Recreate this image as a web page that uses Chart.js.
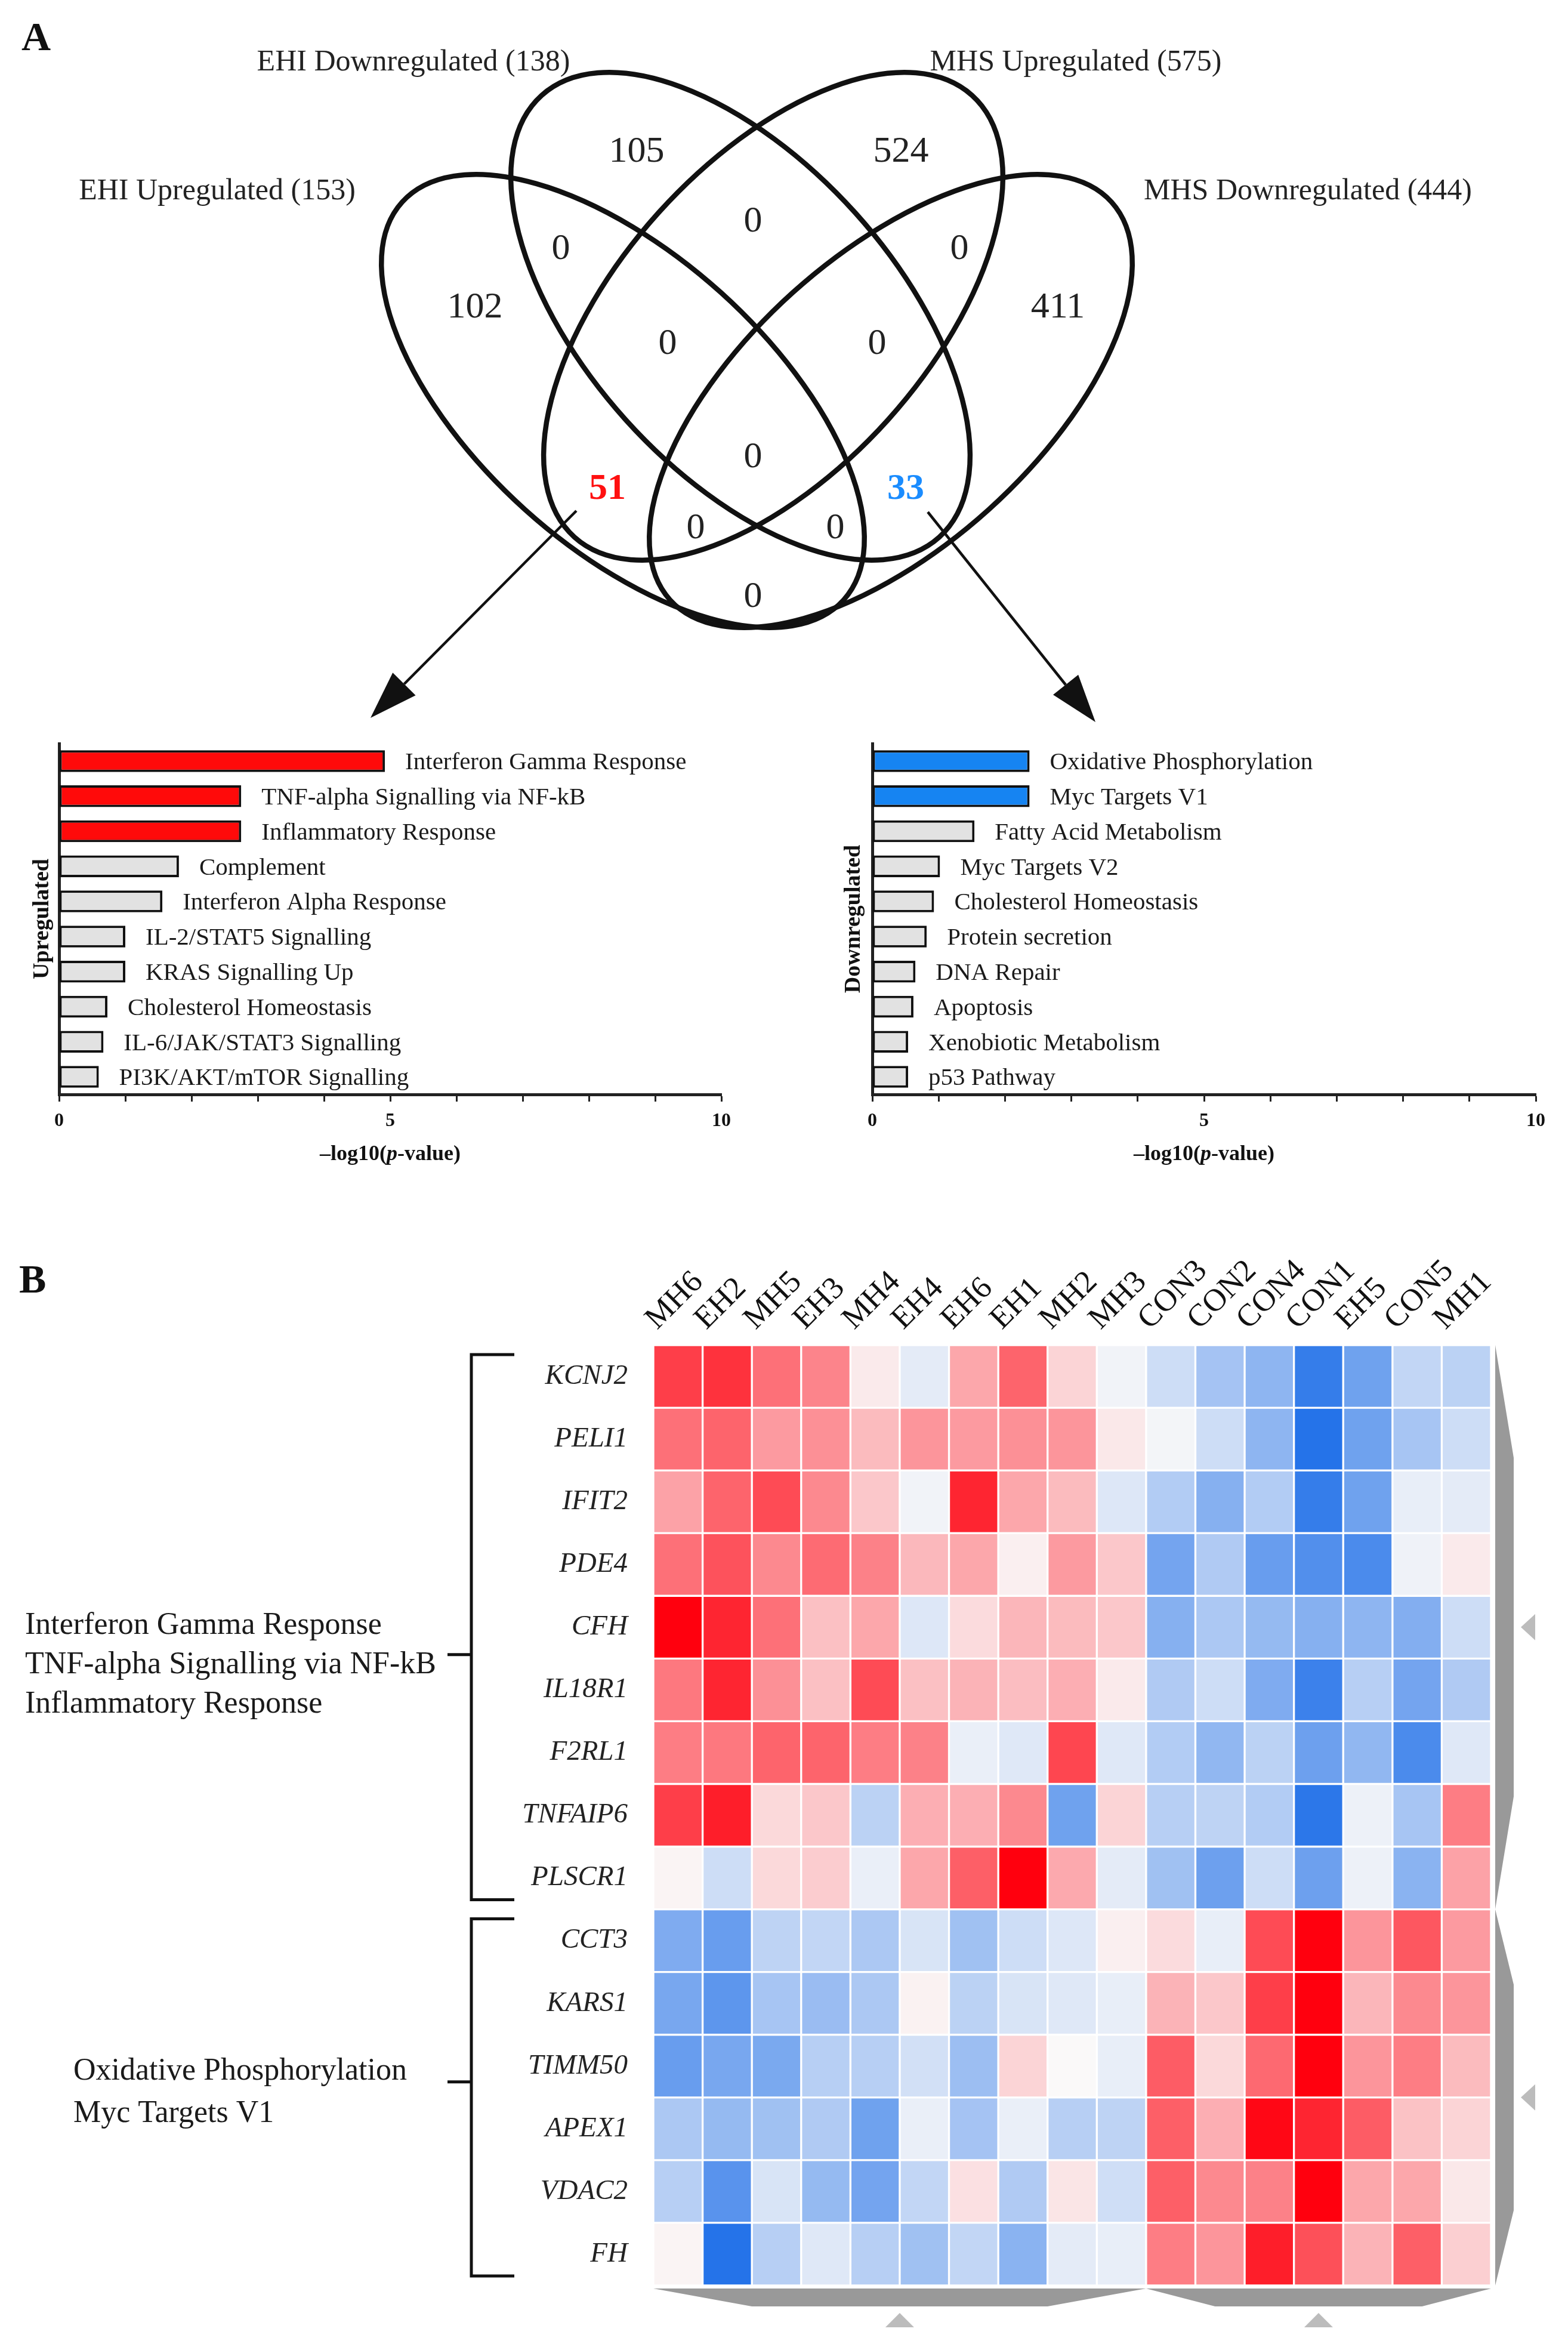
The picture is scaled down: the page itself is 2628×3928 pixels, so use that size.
<!DOCTYPE html>
<html>
<head>
<meta charset="utf-8">
<script src="https://cdn.jsdelivr.net/npm/chart.js@4.4.1/dist/chart.umd.min.js"></script>
<style>
  html, body { margin: 0; padding: 0; background: #fff; }
  #page { position: relative; width: 2628px; height: 3928px; overflow: hidden; }
  canvas { position: absolute; }
</style>
</head>
<body>
<div id="page">
  <canvas id="venn" width="2628" height="1240" style="left:0;top:0;width:2628px;height:1240px"></canvas>
  <canvas id="upBars" width="1314" height="800" style="left:0;top:1180px;width:1314px;height:800px"></canvas>
  <canvas id="downBars" width="1314" height="800" style="left:1314px;top:1180px;width:1314px;height:800px"></canvas>
  <canvas id="heat" width="2628" height="1938" style="left:0;top:1990px;width:2628px;height:1938px"></canvas>
</div>
<script>
// ---- data ----
const setNames = ['EHI Upregulated', 'EHI Downregulated', 'MHS Upregulated', 'MHS Downregulated'];
const setSizes = [153, 138, 575, 444];
// A, B, C, D, AB, BC, CD, ABC, BCD, ABCD, AC, BD, ACD, ABD, AD
const regionCounts = [102, 105, 524, 411, 0, 0, 0, 0, 0, 0, 51, 33, 0, 0, 0];

const upTerms = ['Interferon Gamma Response', 'TNF-alpha Signalling via NF-kB', 'Inflammatory Response',
  'Complement', 'Interferon Alpha Response', 'IL-2/STAT5 Signalling', 'KRAS Signalling Up',
  'Cholesterol Homeostasis', 'IL-6/JAK/STAT3 Signalling', 'PI3K/AKT/mTOR Signalling'];
const upLogP = [4.92, 2.75, 2.75, 1.81, 1.56, 1.0, 1.0, 0.73, 0.67, 0.6];

const downTerms = ['Oxidative Phosphorylation', 'Myc Targets V1', 'Fatty Acid Metabolism', 'Myc Targets V2',
  'Cholesterol Homeostasis', 'Protein secretion', 'DNA Repair', 'Apoptosis',
  'Xenobiotic Metabolism', 'p53 Pathway'];
const downLogP = [2.37, 2.37, 1.54, 1.02, 0.93, 0.82, 0.65, 0.62, 0.54, 0.54];

const xTicks = [0, 5, 10];

const samples = ['MH6', 'EH2', 'MH5', 'EH3', 'MH4', 'EH4', 'EH6', 'EH1', 'MH2', 'MH3',
  'CON3', 'CON2', 'CON4', 'CON1', 'EH5', 'CON5', 'MH1'];
const genes = ['KCNJ2', 'PELI1', 'IFIT2', 'PDE4', 'CFH', 'IL18R1', 'F2RL1', 'TNFAIP6', 'PLSCR1',
  'CCT3', 'KARS1', 'TIMM50', 'APEX1', 'VDAC2', 'FH'];

// relative expression (scaled, red = high, blue = low)
const KCNJ2   = [0.75, 0.8, 0.55, 0.47, 0.06, -0.1, 0.33, 0.6, 0.15, -0.04, -0.2, -0.38, -0.48, -0.88, -0.62, -0.25, -0.28];
const PELI1   = [0.55, 0.6, 0.38, 0.42, 0.25, 0.4, 0.38, 0.42, 0.4, 0.07, -0.03, -0.2, -0.48, -0.95, -0.62, -0.37, -0.2];
const IFIT2   = [0.35, 0.6, 0.7, 0.45, 0.2, -0.04, 0.85, 0.33, 0.25, -0.13, -0.32, -0.52, -0.32, -0.88, -0.62, -0.08, -0.1];
const PDE4    = [0.55, 0.67, 0.45, 0.57, 0.48, 0.26, 0.33, 0.04, 0.38, 0.2, -0.6, -0.33, -0.65, -0.75, -0.78, -0.05, 0.06];
const CFH     = [1.0, 0.85, 0.55, 0.23, 0.33, -0.13, 0.12, 0.27, 0.25, 0.2, -0.52, -0.35, -0.45, -0.52, -0.48, -0.53, -0.2];
const IL18R1  = [0.52, 0.85, 0.42, 0.23, 0.7, 0.23, 0.28, 0.24, 0.3, 0.06, -0.33, -0.2, -0.55, -0.85, -0.3, -0.6, -0.33];
const F2RL1   = [0.5, 0.52, 0.6, 0.6, 0.5, 0.48, -0.07, -0.12, 0.72, -0.12, -0.32, -0.47, -0.28, -0.63, -0.47, -0.78, -0.12];
const TNFAIP6 = [0.75, 0.88, 0.13, 0.2, -0.28, 0.3, 0.3, 0.45, -0.62, 0.15, -0.3, -0.27, -0.32, -0.92, -0.06, -0.37, 0.5];
const PLSCR1  = [0.02, -0.2, 0.13, 0.18, -0.07, 0.33, 0.62, 1.0, 0.32, -0.1, -0.4, -0.63, -0.2, -0.63, -0.06, -0.5, 0.35];
const CCT3    = [-0.55, -0.65, -0.27, -0.25, -0.35, -0.15, -0.4, -0.2, -0.13, 0.04, 0.12, -0.08, 0.7, 1.0, 0.4, 0.65, 0.38];
const KARS1   = [-0.58, -0.7, -0.37, -0.43, -0.35, 0.03, -0.28, -0.15, -0.12, -0.08, 0.28, 0.2, 0.75, 1.0, 0.27, 0.45, 0.4];
const TIMM50  = [-0.65, -0.58, -0.57, -0.3, -0.3, -0.18, -0.42, 0.15, 0.0, -0.08, 0.63, 0.13, 0.58, 1.0, 0.4, 0.5, 0.25];
const APEX1   = [-0.35, -0.45, -0.4, -0.33, -0.62, -0.07, -0.38, -0.07, -0.3, -0.27, 0.62, 0.3, 0.97, 0.85, 0.63, 0.22, 0.15];
const VDAC2   = [-0.3, -0.72, -0.15, -0.45, -0.6, -0.25, 0.1, -0.33, 0.08, -0.19, 0.62, 0.45, 0.48, 1.0, 0.33, 0.33, 0.07];
const FH      = [0.02, -0.95, -0.3, -0.12, -0.3, -0.4, -0.25, -0.5, -0.1, -0.08, 0.5, 0.4, 0.88, 0.68, 0.28, 0.62, 0.17];
const geneRows = [KCNJ2, PELI1, IFIT2, PDE4, CFH, IL18R1, F2RL1, TNFAIP6, PLSCR1, CCT3, KARS1, TIMM50, APEX1, VDAC2, FH];

const geneGroups = [
  { first: 0, last: 8, lines: ['Interferon Gamma Response', 'TNF-alpha Signalling via NF-kB', 'Inflammatory Response'] },
  { first: 9, last: 14, lines: ['Oxidative Phosphorylation', 'Myc Targets V1'] }
];
const sampleClusters = [[0, 9], [10, 16]];

// ---- layout (page pixels) ----
const ellipses = [
  { cx: 1044, cy: 672, rx: 498, ry: 245, rot: 42 },
  { cx: 1241, cy: 530, rx: 498, ry: 259, rot: 48 },
  { cx: 1296, cy: 530, rx: 498, ry: 259, rot: -48 },
  { cx: 1493, cy: 672, rx: 498, ry: 245, rot: -42 }
];
const setLabelPos = [[364, 321], [693, 105], [1803, 105], [2192, 321]];
const regionPos = [[796, 516], [1067, 255], [1510, 255], [1773, 516], [940, 418], [1262, 372], [1608, 418],
  [1119, 577], [1470, 577], [1262, 767], [1018, 820], [1518, 820], [1166, 886], [1400, 886], [1262, 1001]];
const regionColor = { 10: '#ff1010', 11: '#1a8cff' };
const arrows = [[966, 856, 621, 1203], [1555, 858, 1836, 1210]];

const SERIF = "'Liberation Serif', 'DejaVu Serif', serif";
Chart.defaults.font.family = SERIF;
Chart.defaults.color = '#1a1a1a';

// ---- Venn ----
const vennDraw = {
  id: 'vennDraw',
  afterDatasetsDraw(chart) {
    const ctx = chart.ctx, xs = chart.scales.x, ys = chart.scales.y;
    const X = v => xs.getPixelForValue(v), Y = v => ys.getPixelForValue(v);
    ctx.save();
    ctx.strokeStyle = '#111';
    ctx.lineWidth = 8.5;
    ellipses.forEach(e => {
      ctx.beginPath();
      ctx.ellipse(X(e.cx), Y(e.cy), e.rx, e.ry, e.rot * Math.PI / 180, 0, Math.PI * 2);
      ctx.stroke();
    });
    ctx.fillStyle = '#222';
    ctx.font = '50px ' + SERIF;
    ctx.textAlign = 'center';
    ctx.textBaseline = 'middle';
    setNames.forEach((n, i) => ctx.fillText(n + ' (' + setSizes[i] + ')', X(setLabelPos[i][0]), Y(setLabelPos[i][1])));
    const meta = chart.getDatasetMeta(0);
    meta.data.forEach((pt, i) => {
      const hi = regionColor[i];
      ctx.font = (hi ? 'bold ' : '') + '62px ' + SERIF;
      ctx.fillStyle = hi || '#222';
      ctx.fillText(String(regionCounts[i]), pt.x, pt.y);
    });
    ctx.fillStyle = '#111';
    ctx.strokeStyle = '#111';
    ctx.lineWidth = 4.5;
    arrows.forEach(a => {
      const x0 = X(a[0]), y0 = Y(a[1]), x1 = X(a[2]), y1 = Y(a[3]);
      const ang = Math.atan2(y1 - y0, x1 - x0), L = 80, W = 27;
      const bx = x1 - L * Math.cos(ang), by = y1 - L * Math.sin(ang);
      ctx.beginPath(); ctx.moveTo(x0, y0); ctx.lineTo(bx, by); ctx.stroke();
      ctx.beginPath();
      ctx.moveTo(x1, y1);
      ctx.lineTo(bx + W * Math.sin(ang), by - W * Math.cos(ang));
      ctx.lineTo(bx - W * Math.sin(ang), by + W * Math.cos(ang));
      ctx.closePath(); ctx.fill();
    });
    ctx.font = 'bold 68px ' + SERIF;
    ctx.textAlign = 'left';
    ctx.fillText('A', 36, 66);
    ctx.restore();
  }
};

new Chart(document.getElementById('venn'), {
  type: 'scatter',
  data: { datasets: [{ data: regionPos.map(p => ({ x: p[0], y: p[1] })), pointRadius: 0 }] },
  options: {
    responsive: false, animation: false, devicePixelRatio: 1,
    layout: { padding: 0 },
    plugins: { legend: { display: false }, tooltip: { enabled: false } },
    scales: {
      x: { type: 'linear', min: 0, max: 2628, display: false },
      y: { type: 'linear', min: 0, max: 1240, reverse: true, display: false }
    }
  },
  plugins: [vennDraw]
});

// ---- enrichment bars ----
const barLabels = {
  id: 'barLabels',
  afterDatasetsDraw(chart) {
    const ctx = chart.ctx;
    ctx.save();
    ctx.font = '41px ' + SERIF;
    ctx.fillStyle = '#1a1a1a';
    ctx.textBaseline = 'middle';
    chart.getDatasetMeta(0).data.forEach((bar, i) => ctx.fillText(chart.data.labels[i], bar.x + 34, bar.y + 3));
    ctx.restore();
  }
};
const pTitle = {
  id: 'pTitle',
  afterDraw(chart) {
    const ctx = chart.ctx, xs = chart.scales.x;
    const parts = [['\u2013log10(', 'bold '], ['p', 'italic bold '], ['-value)', 'bold ']];
    ctx.save();
    ctx.fillStyle = '#111';
    ctx.textBaseline = 'middle';
    let w = 0;
    parts.forEach(p => { ctx.font = p[1] + '36px ' + SERIF; w += ctx.measureText(p[0]).width; });
    let x = xs.getPixelForValue(5) - w / 2;
    parts.forEach(p => { ctx.font = p[1] + '36px ' + SERIF; ctx.fillText(p[0], x, 755); x += ctx.measureText(p[0]).width; });
    ctx.restore();
  }
};

function enrichChart(id, terms, values, nHi, hiColor, sideTitle, pad, yWidth) {
  return new Chart(document.getElementById(id), {
    type: 'bar',
    data: {
      labels: terms,
      datasets: [{
        data: values,
        backgroundColor: values.map((v, i) => i < nHi ? hiColor : '#e2e2e2'),
        borderColor: '#111', borderWidth: 4, borderSkipped: false,
        barPercentage: 0.62, categoryPercentage: 1
      }]
    },
    options: {
      indexAxis: 'y', responsive: false, animation: false, devicePixelRatio: 1,
      layout: { padding: pad },
      plugins: { legend: { display: false }, tooltip: { enabled: false } },
      scales: {
        x: {
          min: 0, max: 10,
          ticks: { stepSize: 1, autoSkip: false, padding: 14, color: '#111',
                   font: { size: 32, weight: 'bold' },
                   callback: v => xTicks.includes(v) ? v : '' },
          grid: { drawOnChartArea: false, tickLength: 12, tickWidth: 3, tickColor: '#222' },
          border: { width: 5, color: '#222' },
          afterFit: s => { s.height = 126; }
        },
        y: {
          ticks: { display: false },
          grid: { display: false },
          border: { width: 5, color: '#222' },
          title: { display: true, text: sideTitle, color: '#111', padding: 0, font: { size: 38, weight: 'bold' } },
          afterFit: s => { s.width = yWidth; }
        }
      }
    },
    plugins: [barLabels, pTitle]
  });
}

enrichChart('upBars', upTerms, upLogP, 3, '#ff0a0a', 'Upregulated', { left: 48, right: 105, top: 66, bottom: 20 }, 51);
enrichChart('downBars', downTerms, downLogP, 2, '#1684f2', 'Downregulated', { left: 94, right: 54, top: 66, bottom: 20 }, 54);

// ---- heatmap ----
function cellColor(v) {
  const end = v >= 0 ? [255, 0, 14] : [26, 108, 232];
  const w = [250, 249, 249];
  const t = Math.min(1, Math.abs(v));
  return 'rgb(' + w.map((c, i) => Math.round(c + (end[i] - c) * t)).join(',') + ')';
}

const groupTickShift = [46, -26];
const groupTextX = [42, 123];
const groupLineH = [66, 71];

const heatDecor = {
  id: 'heatDecor',
  afterDraw(chart) {
    const ctx = chart.ctx, xs = chart.scales.x, ys = chart.scales.y, area = chart.chartArea;
    ctx.save();
    // brackets + pathway names
    geneGroups.forEach((g, k) => {
      const top = ys.getPixelForValue(g.first) + 16, bot = ys.getPixelForValue(g.last + 1) - 16;
      const mid = (ys.getPixelForValue(g.first) + ys.getPixelForValue(g.last + 1)) / 2 + groupTickShift[k];
      ctx.strokeStyle = '#111'; ctx.lineWidth = 5;
      ctx.beginPath();
      ctx.moveTo(862, top); ctx.lineTo(790, top); ctx.lineTo(790, bot); ctx.lineTo(862, bot);
      ctx.moveTo(790, mid); ctx.lineTo(750, mid);
      ctx.stroke();
      ctx.fillStyle = '#1a1a1a';
      ctx.font = '52px ' + SERIF;
      ctx.textBaseline = 'middle';
      ctx.textAlign = 'left';
      const n = g.lines.length, lh = groupLineH[k];
      g.lines.forEach((t, i) => ctx.fillText(t, groupTextX[k], mid + 18 + (i - (n - 1) / 2) * lh));
    });
    // collapsed dendrogram bands
    ctx.fillStyle = '#999';
    geneGroups.forEach(g => {
      const y0 = ys.getPixelForValue(g.first), y1 = ys.getPixelForValue(g.last + 1), tp = (y1 - y0) * 0.2;
      const xi = area.right + 7, xo = area.right + 38;
      ctx.beginPath();
      ctx.moveTo(xi, y0); ctx.lineTo(xo, y0 + tp); ctx.lineTo(xo, y1 - tp); ctx.lineTo(xi, y1);
      ctx.closePath(); ctx.fill();
    });
    const half = (xs.getPixelForValue(1) - xs.getPixelForValue(0)) / 2;
    sampleClusters.forEach(c => {
      const x0 = xs.getPixelForValue(c[0]) - half, x1 = xs.getPixelForValue(c[1]) + half, tp = (x1 - x0) * 0.2;
      const yi = area.bottom + 5, yo = area.bottom + 35;
      ctx.beginPath();
      ctx.moveTo(x0, yi); ctx.lineTo(x0 + tp, yo); ctx.lineTo(x1 - tp, yo); ctx.lineTo(x1, yi);
      ctx.closePath(); ctx.fill();
    });
    // cluster markers
    ctx.fillStyle = '#bcbcbc';
    geneGroups.forEach(g => {
      const yc = (ys.getPixelForValue(g.first) + ys.getPixelForValue(g.last + 1)) / 2, x = area.right + 50;
      ctx.beginPath(); ctx.moveTo(x, yc); ctx.lineTo(x + 24, yc - 22); ctx.lineTo(x + 24, yc + 22); ctx.closePath(); ctx.fill();
    });
    sampleClusters.forEach(c => {
      const xc = (xs.getPixelForValue(c[0]) + xs.getPixelForValue(c[1])) / 2, y = area.bottom + 46;
      ctx.beginPath(); ctx.moveTo(xc, y); ctx.lineTo(xc - 24, y + 24); ctx.lineTo(xc + 24, y + 24); ctx.closePath(); ctx.fill();
    });
    ctx.fillStyle = '#111';
    ctx.font = 'bold 68px ' + SERIF;
    ctx.textAlign = 'left';
    ctx.textBaseline = 'middle';
    ctx.fillText('B', 32, 158);
    ctx.restore();
  }
};

new Chart(document.getElementById('heat'), {
  type: 'bar',
  data: {
    labels: samples,
    datasets: geneRows.map((row, g) => ({
      label: genes[g],
      data: row.map(() => 1),
      backgroundColor: row.map(cellColor),
      borderColor: 'rgba(255,255,255,0.45)', borderWidth: 2, borderSkipped: false,
      barPercentage: 1, categoryPercentage: 1, stack: 'heat'
    }))
  },
  options: {
    responsive: false, animation: false, devicePixelRatio: 1,
    layout: { padding: { top: 0, bottom: 98, left: 0, right: 129 } },
    plugins: { legend: { display: false }, tooltip: { enabled: false } },
    scales: {
      x: {
        position: 'top', stacked: true,
        grid: { display: false, drawTicks: false }, border: { display: false },
        ticks: { minRotation: 45, maxRotation: 45, autoSkip: false, padding: 12, color: '#111', font: { size: 53 } },
        afterFit: s => { s.height = 264; }
      },
      y: { stacked: true, min: 0, max: 15, reverse: true, display: false },
      y2: {
        type: 'category', labels: genes, position: 'left', offset: true,
        grid: { display: false, drawTicks: false }, border: { display: false },
        ticks: { padding: 43, color: '#222', font: { size: 47, style: 'italic' } },
        afterFit: s => { s.width = 1095; }
      }
    }
  },
  plugins: [heatDecor]
});
</script>
</body>
</html>
